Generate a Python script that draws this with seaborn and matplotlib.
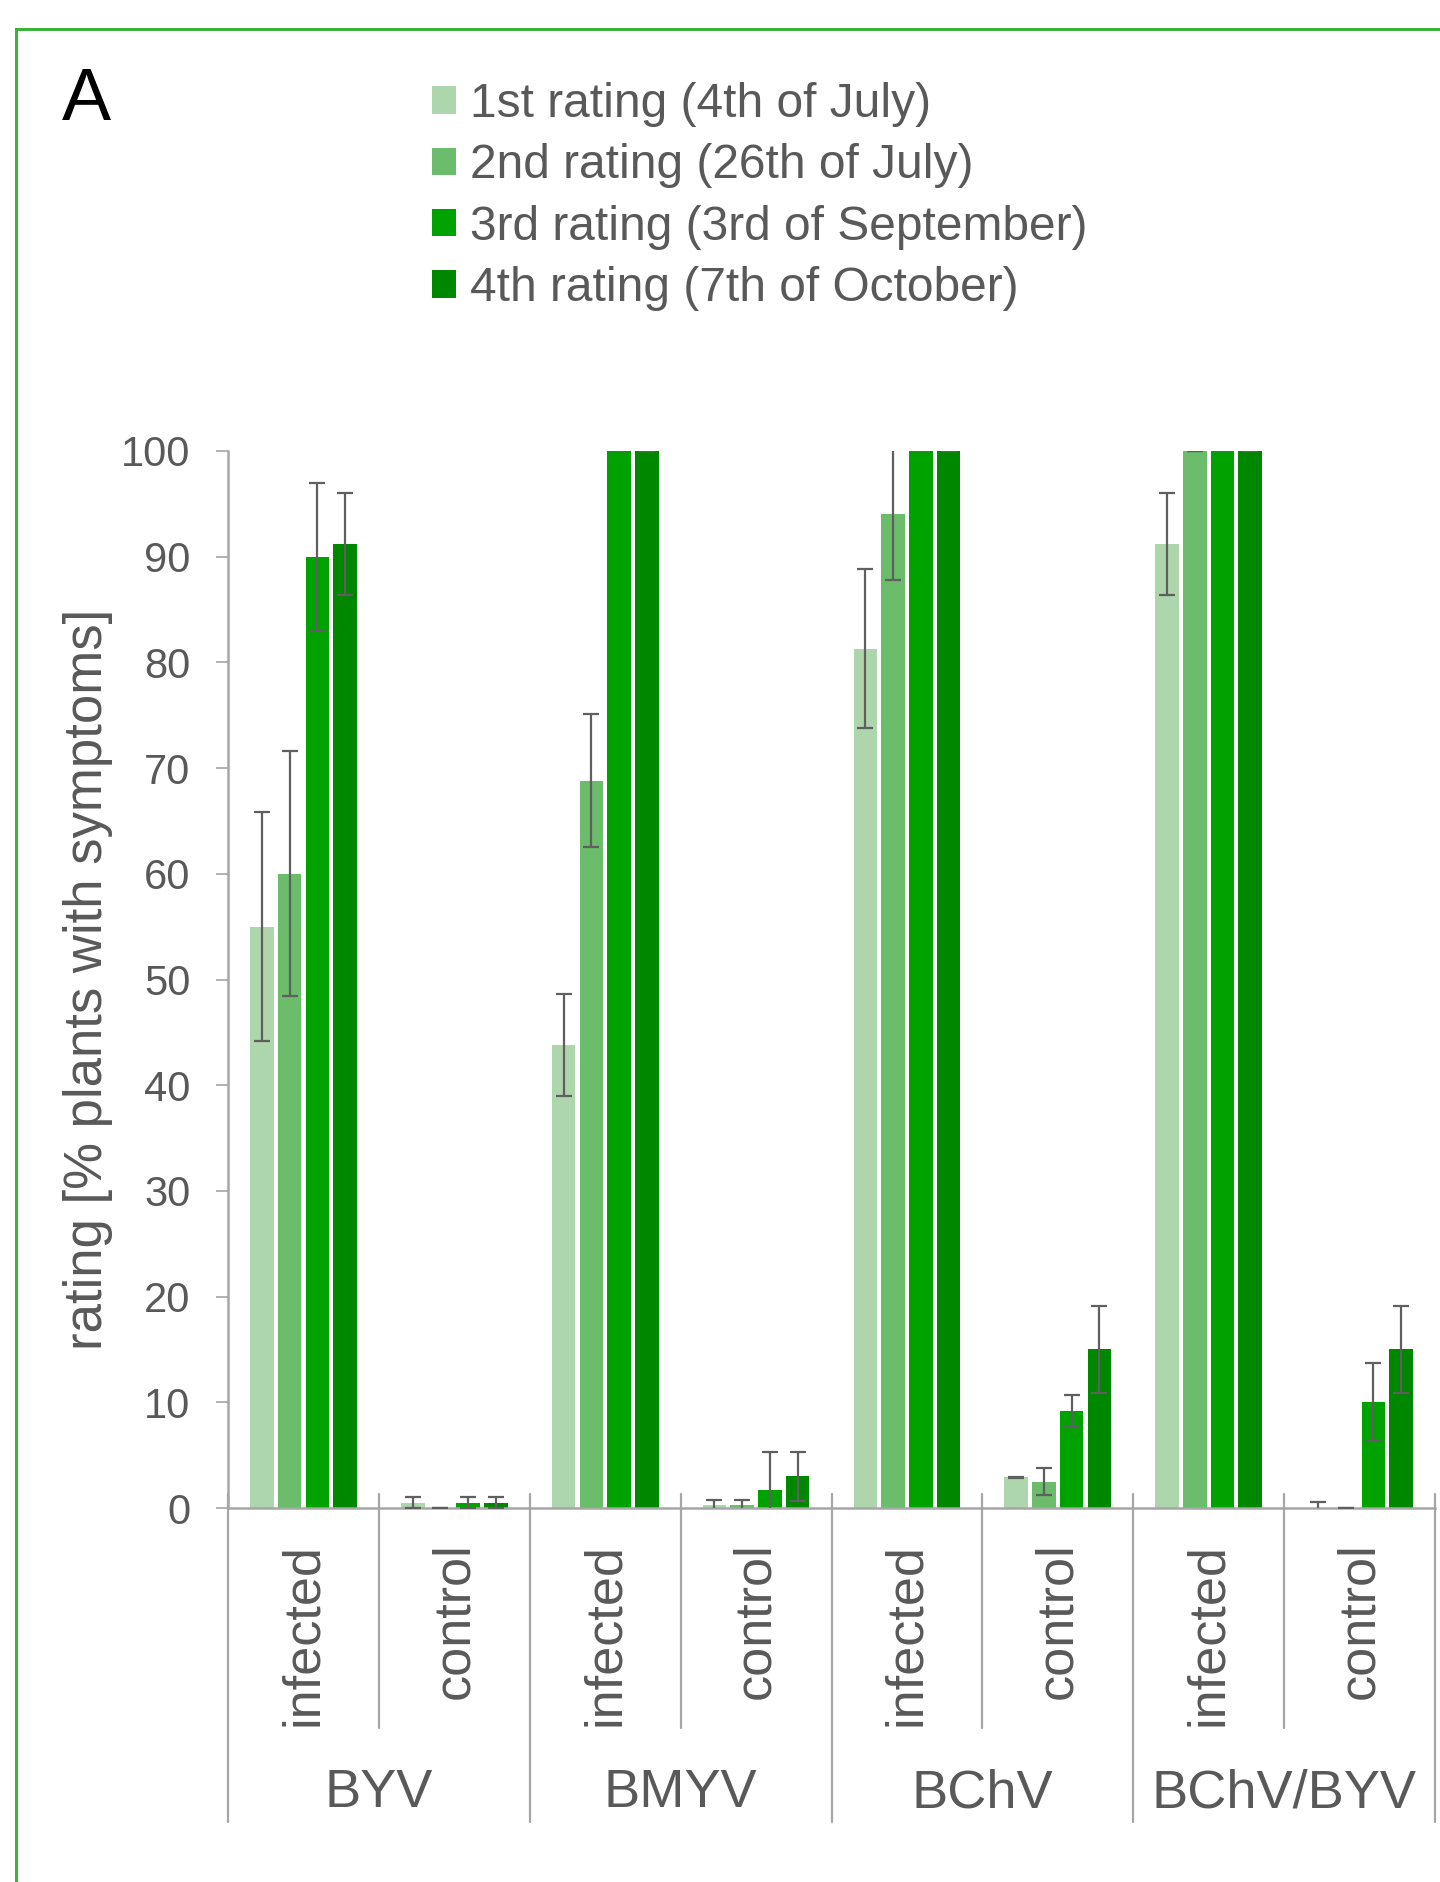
import matplotlib
matplotlib.use("Agg")
import matplotlib.pyplot as plt
import matplotlib.transforms as mtransforms
from matplotlib.patches import Rectangle
from matplotlib.container import BarContainer
import numpy as np
import pandas as pd
import seaborn as sns

# ---- data -------------------------------------------------------------
viruses = ["BYV", "BMYV", "BChV", "BChV/BYV"]
treatments = ["infected", "control"]
ratings = [
    "1st rating (4th of July)",
    "2nd rating (26th of July)",
    "3rd rating (3rd of September)",
    "4th rating (7th of October)",
]

# % plants with symptoms, ordered BYV inf/ctl, BMYV inf/ctl, BChV inf/ctl, BChV/BYV inf/ctl
rating1 = [55.0, 0.5, 43.8, 0.25, 81.3, 2.9, 91.2, 0.0]
rating2 = [60.0, 0.0, 68.8, 0.25, 94.0, 2.5, 100.0, 0.0]
rating3 = [90.0, 0.5, 100.0, 1.75, 100.0, 9.2, 100.0, 10.0]
rating4 = [91.2, 0.5, 100.0, 3.0, 100.0, 15.0, 100.0, 15.0]

# standard deviations
sd1 = [10.8, 0.5, 4.8, 0.55, 7.5, 0.08, 4.8, 0.55]
sd2 = [11.6, 0.0, 6.3, 0.55, 6.2, 1.3, 0.0, 0.0]
sd3 = [7.0, 0.5, 0.0, 3.55, 0.0, 1.5, 0.0, 3.7]
sd4 = [4.8, 0.5, 0.0, 2.3, 0.0, 4.1, 0.0, 4.1]

yticks = [0, 10, 20, 30, 40, 50, 60, 70, 80, 90, 100]

# ---- styling ----------------------------------------------------------
sns.set_style("white")
plt.rcParams["font.family"] = ["Liberation Sans", "DejaVu Sans"]
TXT = "#595959"
AXC = "#a6a6a6"
palette = ["#aed6ac", "#6bbd6b", "#00a200", "#008700"]

values = [rating1, rating2, rating3, rating4]
errors = [sd1, sd2, sd3, sd4]
categories = [f"{v}\n{t}" for v in viruses for t in treatments]

rows = []
for r, vals in zip(ratings, values):
    for c, v in zip(categories, vals):
        rows.append({"category": c, "rating": r, "value": v})
df = pd.DataFrame(rows)

W, H = 1440, 1882
fig = plt.figure(figsize=(W / 100, H / 100), dpi=100)
ax = fig.add_axes([228 / W, 1 - 1508 / H, (1435 - 228) / W, (1508 - 451) / H])

sns.barplot(
    data=df, x="category", y="value", hue="rating",
    order=categories, hue_order=ratings, palette=palette,
    width=0.735, gap=0.15, errorbar=None, saturation=1,
    linewidth=0, ax=ax,
)

# error bars placed on the bar centres
bar_containers = [c for c in ax.containers if isinstance(c, BarContainer)]
for i, cont in enumerate(bar_containers):
    xs, ys, es = [], [], []
    for bar in cont.patches:
        cx = bar.get_x() + bar.get_width() / 2
        idx = int(round(cx))
        xs.append(cx)
        ys.append(values[i][idx])
        es.append(errors[i][idx])
    ax.errorbar(xs, ys, yerr=es, fmt="none", ecolor="#5f5f5f",
                elinewidth=1.6, capsize=6, capthick=1.6, zorder=5)

ax.set_ylim(0, 100)
ax.set_xlim(-0.5, len(categories) - 0.5)
ax.set_yticks(yticks)
ax.set_yticklabels([str(t) for t in yticks], fontsize=30, color=TXT)
ax.tick_params(axis="y", length=9, width=1.2, color=AXC, pad=18, left=True)
ax.set_ylabel("rating [% plants with symptoms]", fontsize=38, color=TXT, labelpad=6)

ax.set_xticks(range(len(categories)))
ax.set_xticklabels([t for v in viruses for t in treatments],
                   rotation=90, fontsize=37.5, color=TXT)
ax.tick_params(axis="x", length=0, pad=25)
ax.set_xlabel("")

for s in ["top", "right"]:
    ax.spines[s].set_visible(False)
for s in ["left", "bottom"]:
    ax.spines[s].set_color(AXC)
    ax.spines[s].set_linewidth(1.8)

# category separators below the axis
trans = mtransforms.blended_transform_factory(ax.transData, ax.transAxes)
for k in range(len(categories) + 1):
    xpos = k - 0.5
    low = -0.297 if k % 2 == 0 else -0.208
    ax.plot([xpos, xpos], [0.013, low], transform=trans, color=AXC,
            linewidth=1.6, clip_on=False, zorder=1)

# virus group labels
for g, v in enumerate(viruses):
    ax.text(2 * g + 0.5, -0.27, v, transform=trans, ha="center", va="center",
            fontsize=39, color=TXT)

# legend
sns.move_legend(
    ax, "upper left", bbox_to_anchor=(432 / W, 1 - 82 / H),
    bbox_transform=fig.transFigure, frameon=False, title=None,
    fontsize=34.5, handlelength=0.5, handleheight=0.5, handletextpad=0.3,
    labelspacing=0.34, borderpad=0, borderaxespad=0,
)
for t in ax.get_legend().get_texts():
    t.set_color(TXT)

# panel letter and frame
fig.text(62 / W, 1 - 66 / H, "A", fontsize=53, color="black", ha="left", va="top")
top = 1 - 29 / H
fig.add_artist(Rectangle((16 / W, -0.05), 1.2, top + 0.05, transform=fig.transFigure,
                         fill=False, edgecolor="#3cb43c", linewidth=2.2))

fig.savefig("out.png", dpi=100)
